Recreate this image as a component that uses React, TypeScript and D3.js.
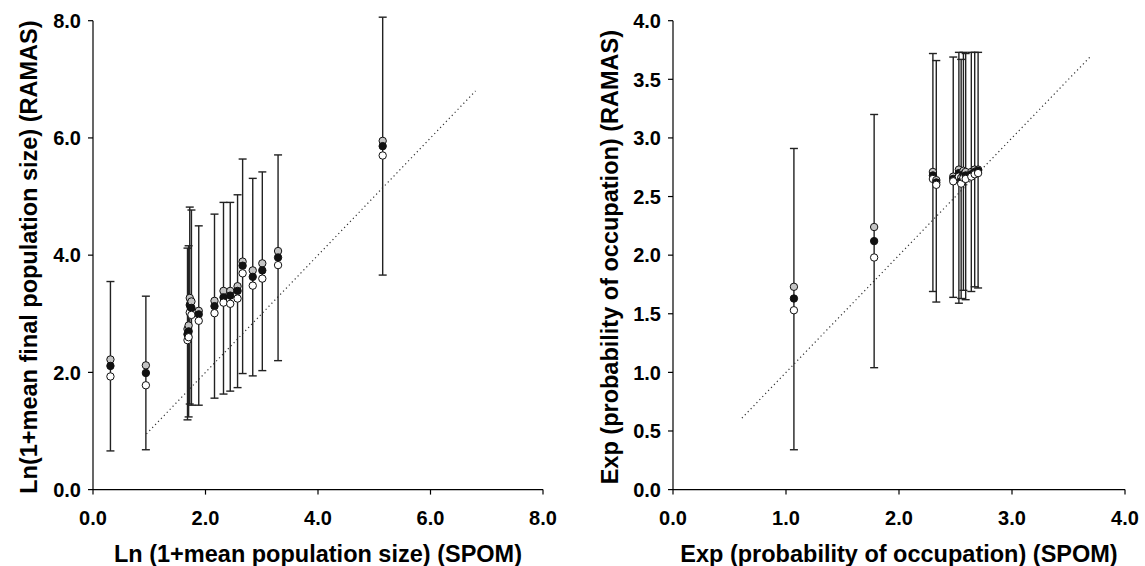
import React from "react";
import * as d3 from "d3";

// left panel: Ln (1+mean population size)
const popX = [0.31, 0.94, 1.68, 1.7, 1.72, 1.75, 1.88, 2.16, 2.32, 2.44, 2.57, 2.66, 2.84, 3.01, 3.29, 5.15];
const popGrey = [2.22, 2.12, 2.74, 2.8, 3.27, 3.21, 3.05, 3.22, 3.39, 3.39, 3.47, 3.89, 3.74, 3.86, 4.07, 5.95];
const popMean = [2.11, 1.99, 2.65, 2.7, 3.15, 3.1, 2.99, 3.13, 3.28, 3.31, 3.39, 3.82, 3.63, 3.74, 3.96, 5.86];
const popWhite = [1.93, 1.78, 2.55, 2.6, 3.02, 2.98, 2.88, 3.01, 3.19, 3.17, 3.26, 3.69, 3.48, 3.6, 3.83, 5.7];
const popLo = [0.66, 0.68, 1.19, 1.24, 1.46, 1.44, 1.44, 1.56, 1.63, 1.68, 1.74, 1.98, 1.94, 2.03, 2.2, 3.66];
const popHi = [3.55, 3.3, 4.12, 4.16, 4.82, 4.77, 4.5, 4.7, 4.9, 4.9, 5.03, 5.64, 5.31, 5.42, 5.71, 8.06];
const popTicks = [0, 2, 4, 6, 8];
const popLine = [0.95, 6.8];

// right panel: Exp (probability of occupation)
const occX = [1.07, 1.78, 2.3, 2.33, 2.48, 2.53, 2.55, 2.57, 2.59, 2.64, 2.67, 2.7];
const occGrey = [1.73, 2.24, 2.71, 2.64, 2.67, 2.73, 2.66, 2.72, 2.71, 2.71, 2.73, 2.73];
const occMean = [1.63, 2.12, 2.68, 2.62, 2.65, 2.7, 2.63, 2.69, 2.68, 2.69, 2.71, 2.72];
const occWhite = [1.53, 1.98, 2.65, 2.6, 2.63, 2.67, 2.61, 2.66, 2.65, 2.67, 2.69, 2.7];
const occLo = [0.34, 1.04, 1.69, 1.6, 1.64, 1.59, 1.63, 1.7, 1.62, 1.69, 1.73, 1.72];
const occHi = [2.91, 3.2, 3.72, 3.66, 3.69, 3.73, 3.67, 3.73, 3.72, 3.73, 3.73, 3.73];
const occXTicks = [0, 1, 2, 3, 4];
const occYTicks = [0, 0.5, 1, 1.5, 2, 2.5, 3, 3.5, 4];
const occLine = [0.61, 3.7];

const FONT = "'Liberation Sans', Arial, Helvetica, sans-serif";
const top = 20.7;
const bottom = 489.6;

function Panel({ left, right, max, xTicks, yTicks, xs, grey, mean, white, lo, hi, line, xTitle, yTitle, yTitleX }) {
  const x = d3.scaleLinear().domain([0, max]).range([left, right]);
  const y = d3.scaleLinear().domain([0, max]).range([bottom, top]);
  const fmt = d3.format(".1f");
  const cap = 4;
  return (
    <g>
      {/* identity line */}
      <line x1={x(line[0])} y1={y(line[0])} x2={x(line[1])} y2={y(line[1])}
        stroke="#333" strokeWidth={1.2} strokeDasharray="1.2 3" />
      {/* error bars */}
      {xs.map((v, i) => (
        <g key={"e" + i} stroke="#222" strokeWidth={1.4}>
          <line x1={x(v)} x2={x(v)} y1={y(lo[i])} y2={y(hi[i])} />
          <line x1={x(v) - cap} x2={x(v) + cap} y1={y(lo[i])} y2={y(lo[i])} />
          <line x1={x(v) - cap} x2={x(v) + cap} y1={y(hi[i])} y2={y(hi[i])} />
        </g>
      ))}
      {xs.map((v, i) => (
        <g key={"p" + i} stroke="#111" strokeWidth={1}>
          <circle cx={x(v)} cy={y(grey[i])} r={3.7} fill="#c4c4c4" />
          <circle cx={x(v)} cy={y(mean[i])} r={3.7} fill="#111" />
          <circle cx={x(v)} cy={y(white[i])} r={3.7} fill="#fff" />
        </g>
      ))}
      {/* axes */}
      <line x1={left} x2={right} y1={bottom} y2={bottom} stroke="#000" strokeWidth={1.2} />
      <line x1={left} x2={left} y1={bottom} y2={top} stroke="#000" strokeWidth={1.2} />
      {xTicks.map((t) => (
        <g key={"xt" + t}>
          <line x1={x(t)} x2={x(t)} y1={bottom} y2={bottom + 5} stroke="#000" strokeWidth={1.2} />
          <text x={x(t)} y={bottom + 35} textAnchor="middle" fontFamily={FONT}
            fontWeight="bold" fontSize={20}>{fmt(t)}</text>
        </g>
      ))}
      {yTicks.map((t) => (
        <g key={"yt" + t}>
          <line x1={left - 5} x2={left} y1={y(t)} y2={y(t)} stroke="#000" strokeWidth={1.2} />
          <text x={left - 12} y={y(t)} dy="0.36em" textAnchor="end" fontFamily={FONT}
            fontWeight="bold" fontSize={20}>{fmt(t)}</text>
        </g>
      ))}
      <text x={(left + right) / 2} y={562} textAnchor="middle" fontFamily={FONT}
        fontWeight="bold" fontSize={23.5}>{xTitle}</text>
      <text transform={`translate(${yTitleX},${(top + bottom) / 2 + 2}) rotate(-90)`} textAnchor="middle"
        fontFamily={FONT} fontWeight="bold" fontSize={23.5}>{yTitle}</text>
    </g>
  );
}

export default function App() {
  return (
    <svg width={1145} height={566} style={{ position: "absolute", left: 0, top: 0, background: "#fff" }}>
      <Panel left={93} right={543} max={8} xTicks={popTicks} yTicks={popTicks}
        xs={popX} grey={popGrey} mean={popMean} white={popWhite} lo={popLo} hi={popHi} line={popLine}
        xTitle="Ln (1+mean population size) (SPOM)" yTitle="Ln(1+mean final population size) (RAMAS)"
        yTitleX={37} />
      <Panel left={673} right={1125} max={4} xTicks={occXTicks} yTicks={occYTicks}
        xs={occX} grey={occGrey} mean={occMean} white={occWhite} lo={occLo} hi={occHi} line={occLine}
        xTitle="Exp (probability of occupation) (SPOM)" yTitle="Exp (probability of occupation) (RAMAS)"
        yTitleX={618} />
    </svg>
  );
}
